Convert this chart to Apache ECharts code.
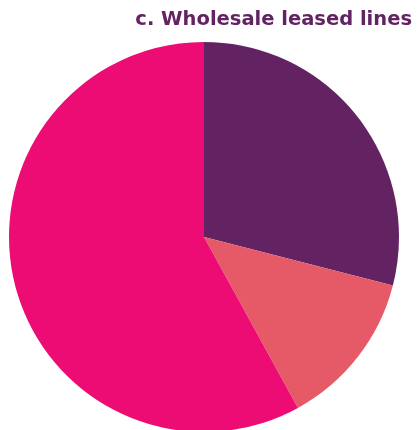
<!DOCTYPE html>
<html>
<head>
<meta charset="utf-8">
<style>
  html, body { margin: 0; padding: 0; background: #ffffff; }
  #chart { width: 419px; height: 430px; }
</style>
<script src="https://cdn.jsdelivr.net/npm/echarts@6/dist/echarts.min.js"></script>
</head>
<body>
<div id="chart"></div>
<script>
// Wholesale leased lines: share by segment
const categories = ['Segment A', 'Segment B', 'Segment C'];
const shares = [29, 13, 58];
const colors = ['#632363', '#E65A68', '#EC0C74'];

const chart = echarts.init(document.getElementById('chart'), null, { renderer: 'canvas' });
chart.setOption({
  animation: false,
  title: {
    text: 'c. Wholesale leased lines',
    right: 2,
    top: 5,
    textStyle: {
      fontFamily: 'DejaVu Sans',
      fontWeight: 'bold',
      fontSize: 19.5,
      color: '#632363'
    }
  },
  series: [{
    type: 'pie',
    center: [204, 237],
    radius: 195,
    startAngle: 90,
    clockwise: true,
    label: { show: false },
    labelLine: { show: false },
    itemStyle: { borderWidth: 0 },
    data: categories.map((name, i) => ({
      name,
      value: shares[i],
      itemStyle: { color: colors[i] }
    }))
  }]
});
</script>
</body>
</html>
